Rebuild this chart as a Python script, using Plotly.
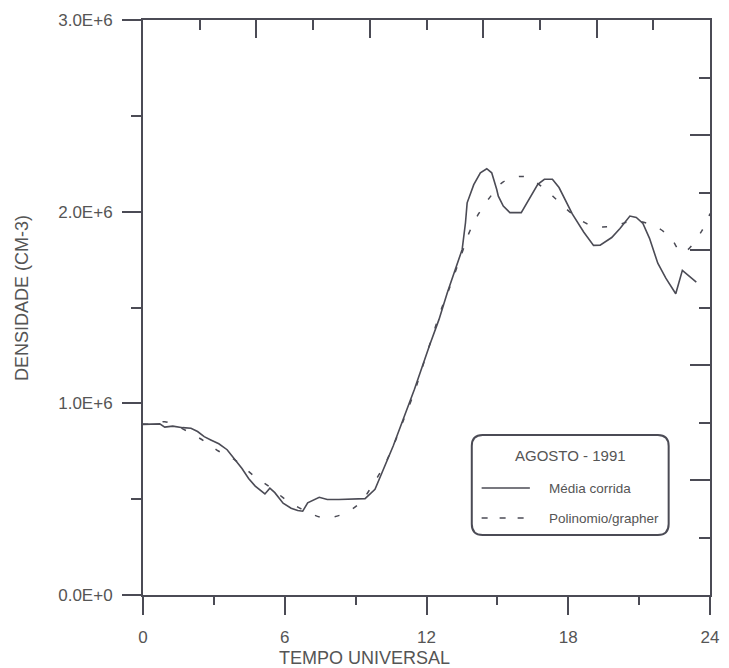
import plotly.graph_objects as go

# ---- data ----
media_t = [0.0, 0.43, 0.71, 0.92, 1.26, 1.68, 2.03, 2.31, 2.59, 2.87, 3.21, 3.56, 3.91, 4.19,
           4.47, 4.75, 5.16, 5.37, 5.58, 5.93, 6.27, 6.55, 6.76, 6.97, 7.46, 7.80, 8.29, 9.40,
           9.82, 10.17, 10.59, 11.01, 11.49, 12.12, 12.53, 12.88, 13.23, 13.51, 13.65, 13.72,
           14.00, 14.28, 14.55, 14.76, 14.97, 15.04, 15.25, 15.53, 16.01, 16.36, 16.71, 16.99,
           17.33, 17.61, 17.89, 18.17, 18.66, 19.07, 19.35, 19.84, 20.19, 20.61, 20.88, 21.16,
           21.44, 21.79, 22.13, 22.55, 22.83, 23.11, 23.42]
media_v = [0.89, 0.893, 0.893, 0.876, 0.881, 0.873, 0.870, 0.853, 0.826, 0.809, 0.789, 0.758,
           0.703, 0.660, 0.608, 0.568, 0.527, 0.557, 0.534, 0.479, 0.453, 0.441, 0.437, 0.481,
           0.510, 0.498, 0.498, 0.503, 0.551, 0.655, 0.777, 0.916, 1.073, 1.299, 1.438, 1.577,
           1.699, 1.803, 1.942, 2.046, 2.141, 2.203, 2.224, 2.203, 2.117, 2.081, 2.029, 1.995,
           1.995, 2.073, 2.143, 2.169, 2.169, 2.126, 2.057, 1.988, 1.893, 1.824, 1.825, 1.865,
           1.912, 1.977, 1.970, 1.939, 1.861, 1.731, 1.653, 1.572, 1.694, 1.663, 1.632]

poli_t = [0.0, 0.54, 0.92, 2.45, 3.21, 3.91, 4.65, 5.37, 6.04, 6.85, 7.64, 8.46, 9.19, 9.70,
          10.17, 10.57, 11.05, 11.53, 11.77, 12.05, 12.32, 12.60, 12.93, 13.51, 13.81, 14.20,
          14.72, 15.25, 16.15, 16.92, 17.57, 18.27, 19.00, 19.84, 20.74, 21.58, 22.30, 22.83,
          23.66, 24.0]
poli_v = [0.892, 0.893, 0.904, 0.814, 0.750, 0.703, 0.626, 0.563, 0.498, 0.440, 0.404, 0.422,
          0.481, 0.571, 0.667, 0.771, 0.920, 1.073, 1.168, 1.273, 1.377, 1.482, 1.587, 1.787,
          1.892, 1.988, 2.081, 2.155, 2.183, 2.127, 2.055, 1.978, 1.927, 1.923, 1.951, 1.929,
          1.869, 1.786, 1.901, 1.99]

y_tickvals = [0, 1e6, 2e6, 3e6]
y_ticktext = ["0.0E+0", "1.0E+6", "2.0E+6", "3.0E+6"]
x_tickvals = [0, 6, 12, 18, 24]

legend_title = "AGOSTO - 1991"
series_names = ["Média corrida", "Polinomio/grapher"]

# ---- style ----
INK = "#4b4b55"
TXT = "#555555"
FONT = "Liberation Sans, Arial, sans-serif"
W, H = 729, 668
L, R, T, B = 143, 719, 20, 595


def px(x):
    return (x - L) / (R - L)


def py(y):
    return (B - y) / (B - T)


fig = go.Figure()
fig.add_trace(go.Scatter(x=media_t, y=[v * 1e6 for v in media_v], mode="lines",
                         line=dict(color=INK, width=1.6), name=series_names[0],
                         showlegend=False))
fig.add_trace(go.Scatter(x=poli_t, y=[v * 1e6 for v in poli_v], mode="lines",
                         line=dict(color=INK, width=1.5, dash="5px,15px"),
                         name=series_names[1], showlegend=False, line_shape="spline"))
# empty traces so the extra tick-only frame axes are drawn
for xa, ya in (("x2", "y2"), ("x3", "y3"), ("x4", "y4")):
    fig.add_trace(go.Scatter(x=[], y=[], xaxis=xa, yaxis=ya, showlegend=False,
                             hoverinfo="skip"))

base = dict(showgrid=False, zeroline=False, tickwidth=2, tickcolor=INK)
line_on = dict(showline=True, linecolor=INK, linewidth=2)

fig.update_layout(
    width=W, height=H,
    margin=dict(l=L, r=W - R, t=T, b=H - B),
    paper_bgcolor="white", plot_bgcolor="white",
    font=dict(family=FONT, color=TXT),
    # bottom: labelled major ticks
    xaxis=dict(range=[0, 24], tickvals=x_tickvals, ticks="outside", ticklen=18,
               tickfont=dict(size=17, color=TXT), ticklabelstandoff=8, **base, **line_on),
    # left: labelled major ticks
    yaxis=dict(range=[0, 3e6], tickvals=y_tickvals, ticktext=y_ticktext, ticks="outside",
               ticklen=19, tickfont=dict(size=17, color=TXT), ticklabelstandoff=6,
               **base, **line_on),
    # top frame, long inward ticks
    xaxis2=dict(overlaying="x", side="top", anchor="y2", range=[0, 10], tickmode="linear",
                tick0=0, dtick=2, ticks="inside", ticklen=18, showticklabels=False,
                **base, **line_on),
    # right frame, long inward ticks
    yaxis2=dict(overlaying="y", side="right", anchor="x2", range=[0, 10], tickmode="linear",
                tick0=0, dtick=2, ticks="inside", ticklen=20, showticklabels=False,
                **base, **line_on),
    # bottom / left minor ticks
    xaxis3=dict(overlaying="x", side="bottom", anchor="y3", range=[0, 24], tickmode="linear",
                tick0=0, dtick=3, ticks="outside", ticklen=9, showticklabels=False,
                showline=False, **base),
    yaxis3=dict(overlaying="y", side="left", anchor="x3", range=[0, 3e6], tickmode="linear",
                tick0=0, dtick=5e5, ticks="outside", ticklen=11, showticklabels=False,
                showline=False, **base),
    # top / right short inward ticks
    xaxis4=dict(overlaying="x", side="top", anchor="y4", range=[0, 10], tickmode="linear",
                tick0=0, dtick=1, ticks="inside", ticklen=10, showticklabels=False,
                showline=False, **base),
    yaxis4=dict(overlaying="y", side="right", anchor="x4", range=[0, 10], tickmode="linear",
                tick0=0, dtick=1, ticks="inside", ticklen=11, showticklabels=False,
                showline=False, **base),
)

# axis titles
fig.add_annotation(text="TEMPO UNIVERSAL", xref="paper", yref="paper", x=px(368), y=py(658),
                   showarrow=False, font=dict(size=18, color=TXT), xanchor="center",
                   yanchor="middle")
fig.add_annotation(text="DENSIDADE (CM-3)", xref="paper", yref="paper", x=px(20), y=py(298),
                   showarrow=False, font=dict(size=18, color=TXT), textangle=-90,
                   xanchor="center", yanchor="middle")

# legend box (rounded rectangle) with samples
x0, x1, y0, y1, r = 477, 677, 435, 535, 11
rx, ry = r / (R - L), r / (B - T)
X0, X1, Y0, Y1 = px(x0), px(x1), py(y1), py(y0)
path = (f"M {X0+rx},{Y0} L {X1-rx},{Y0} Q {X1},{Y0} {X1},{Y0+ry} "
        f"L {X1},{Y1-ry} Q {X1},{Y1} {X1-rx},{Y1} L {X0+rx},{Y1} "
        f"Q {X0},{Y1} {X0},{Y1-ry} L {X0},{Y0+ry} Q {X0},{Y0} {X0+rx},{Y0} Z")
fig.add_shape(type="path", path=path, xref="paper", yref="paper",
              line=dict(color=INK, width=2), fillcolor="white")
fig.add_shape(type="line", xref="paper", yref="paper", x0=px(487), x1=px(536), y0=py(488),
              y1=py(488), line=dict(color=INK, width=1.6))
fig.add_shape(type="line", xref="paper", yref="paper", x0=px(487), x1=px(538), y0=py(518),
              y1=py(518), line=dict(color=INK, width=1.6, dash="6px,12px"))
fig.add_annotation(text=legend_title, xref="paper", yref="paper", x=px(577), y=py(455),
                   showarrow=False, font=dict(size=15, color=TXT), xanchor="center",
                   yanchor="middle")
fig.add_annotation(text=series_names[0], xref="paper", yref="paper", x=px(553), y=py(488),
                   showarrow=False, font=dict(size=13.5, color=TXT), xanchor="left",
                   yanchor="middle")
fig.add_annotation(text=series_names[1], xref="paper", yref="paper", x=px(553), y=py(518),
                   showarrow=False, font=dict(size=13.5, color=TXT), xanchor="left",
                   yanchor="middle")

fig.write_html("out.html")
